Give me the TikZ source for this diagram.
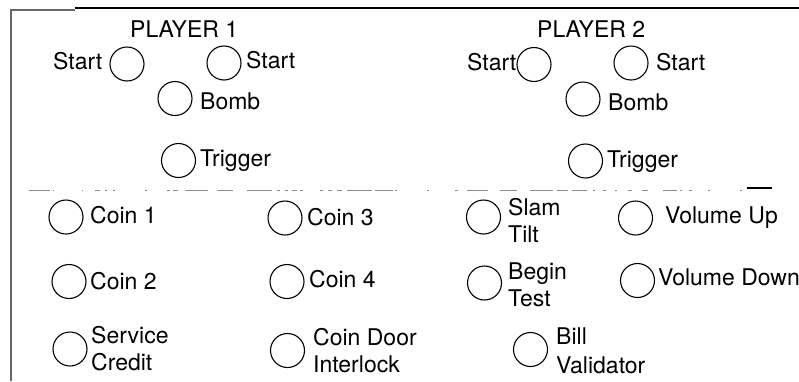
\documentclass[tikz,border=0pt]{standalone}
\usepackage{fontspec}
\setmainfont{TeX Gyre Heros}
\begin{document}
\begin{tikzpicture}[x=1pt,y=-1pt,
  btn/.style={draw=black,line width=1.1pt,circle,minimum size=34pt,inner sep=0pt},
  lbl/.style={inner sep=0pt,anchor=base west,font=\fontsize{23}{27}\selectfont},
  lbltwo/.style={inner sep=0pt,anchor=north west,align=left,font=\fontsize{23}{27}\selectfont},
  brk/.style={line width=0.8pt,black!45}]
\useasboundingbox (0,0) rectangle (799,381);
% frame
\draw[line width=1.4pt,black!60] (11,381) -- (11,10) -- (75,10);
\draw[line width=1.4pt] (75,8) -- (799,8);
% broken separator
\foreach \a/\b in {29/50,53/54,82/83,95/100,105/107,113/115,145/147,167/170,173/178,185/208,217/233,247/272,277/280,285/288,292/297,300/303,320/323,328/332,337/342,347/372,375/393,395/397,427/429,455/458,467/488,500/517,530/553,557/568,572/587,593/595,603/606,615/617,628/632,642/648,663/677,680/682,689/692,708/710,740/742}
  \draw[brk] (\a,190) -- (\b,190);
\draw[line width=2.2pt] (747,188) -- (772,188);
% player 1
\node[lbl] (p1) at (130,37) {PLAYER 1};
\node[btn] (s1a) at (127,64) {};
\node[lbl] (s1at) at (53,69) {Start};
\node[btn] (s1b) at (224,63) {};
\node[lbl] (s1bt) at (246,68) {Start};
\node[btn] (b1) at (175,98.5) {};
\node[lbl] (b1t) at (200,109) {Bomb};
\node[btn] (t1) at (178.5,160.5) {};
\node[lbl] (t1t) at (200,166) {Trigger};
% player 2
\node[lbl] (p2) at (537,37) {PLAYER 2};
\node[btn] (s2a) at (534,64.5) {};
\node[lbl] (s2at) at (467,70) {Start};
\node[btn] (s2b) at (631,63) {};
\node[lbl] (s2bt) at (656,70) {Start};
\node[btn] (b2) at (583,99) {};
\node[lbl] (b2t) at (608,110) {Bomb};
\node[btn] (t2) at (585.5,161) {};
\node[lbl] (t2t) at (607,167) {Trigger};
% lower panel
\node[btn] (c1) at (66,217) {};
\node[lbl] (c1t) at (90,223) {Coin 1};
\node[btn] (c2) at (69,281.5) {};
\node[lbl] (c2t) at (90,289) {Coin 2};
\node[btn] (sc) at (70,349) {};
\node[lbltwo] (sct) at (91,326) {Service\\Credit};
\node[btn] (c3) at (285,218) {};
\node[lbl] (c3t) at (307,225) {Coin 3};
\node[btn] (c4) at (287,281.5) {};
\node[lbl] (c4t) at (309,287) {Coin 4};
\node[btn] (cd) at (287.5,350.5) {};
\node[lbltwo] (cdt) at (313,328) {Coin Door\\Interlock};
\node[btn] (sl) at (483.5,217) {};
\node[lbltwo] (slt) at (508,198) {Slam\\Tilt};
\node[btn] (vu) at (635.5,218) {};
\node[lbl] (vut) at (665,223) {Volume Up};
\node[btn] (bt) at (484.5,283) {};
\node[lbltwo] (btt) at (508,263) {Begin\\Test};
\node[btn] (vd) at (637.5,280.5) {};
\node[lbl] (vdt) at (658,285) {Volume Down};
\node[btn] (bv) at (530.5,349.5) {};
\node[lbltwo] (bvt) at (556,328) {Bill\\[2pt]Validator};
\end{tikzpicture}
\end{document}
